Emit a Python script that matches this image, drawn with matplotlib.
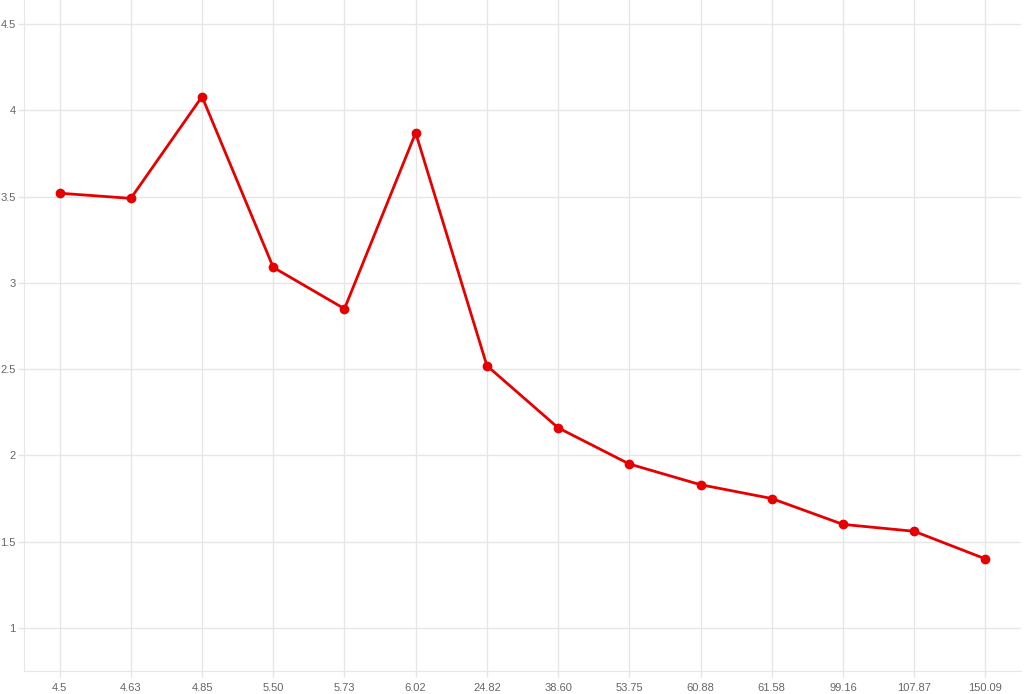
import matplotlib
matplotlib.use("Agg")
import matplotlib.pyplot as plt

labels = ["4.5", "4.63", "4.85", "5.50", "5.73", "6.02", "24.82", "38.60",
          "53.75", "60.88", "61.58", "99.16", "107.87", "150.09"]
values = [3.52, 3.49, 4.08, 3.09, 2.85, 3.87, 2.52, 2.16,
          1.95, 1.83, 1.75, 1.60, 1.56, 1.40]

plt.rcParams["font.family"] = ["Liberation Sans", "DejaVu Sans"]

fig = plt.figure(figsize=(10.24, 6.94), dpi=100)
ax = fig.add_axes([24 / 1024, 23 / 694, 997 / 1024, 671 / 694])

x = list(range(len(labels)))
ax.plot(x, values, color="#e60000", linewidth=2, marker="o", markersize=6, zorder=3)

ax.set_xlim(-0.5, len(labels) - 0.5)
ax.set_ylim(0.75, 4.64)
ax.set_xticks(x)
ax.set_xticklabels(labels)
ax.set_yticks([1, 1.5, 2, 2.5, 3, 3.5, 4, 4.5])
ax.set_yticklabels(["1", "1.5", "2", "2.5", "3", "3.5", "4", "4.5"])

ax.grid(True, color="#e6e6e6", linewidth=1)
ax.set_axisbelow(True)
for side in ["top", "right"]:
    ax.spines[side].set_visible(False)
for side in ["left", "bottom"]:
    ax.spines[side].set_color("#e6e6e6")
ax.tick_params(axis="both", colors="#e6e6e6", labelcolor="#666666",
               labelsize=8, length=4.5, width=1, pad=1.5)
ax.tick_params(axis="x", pad=4)

fig.savefig("out.png", dpi=100)
